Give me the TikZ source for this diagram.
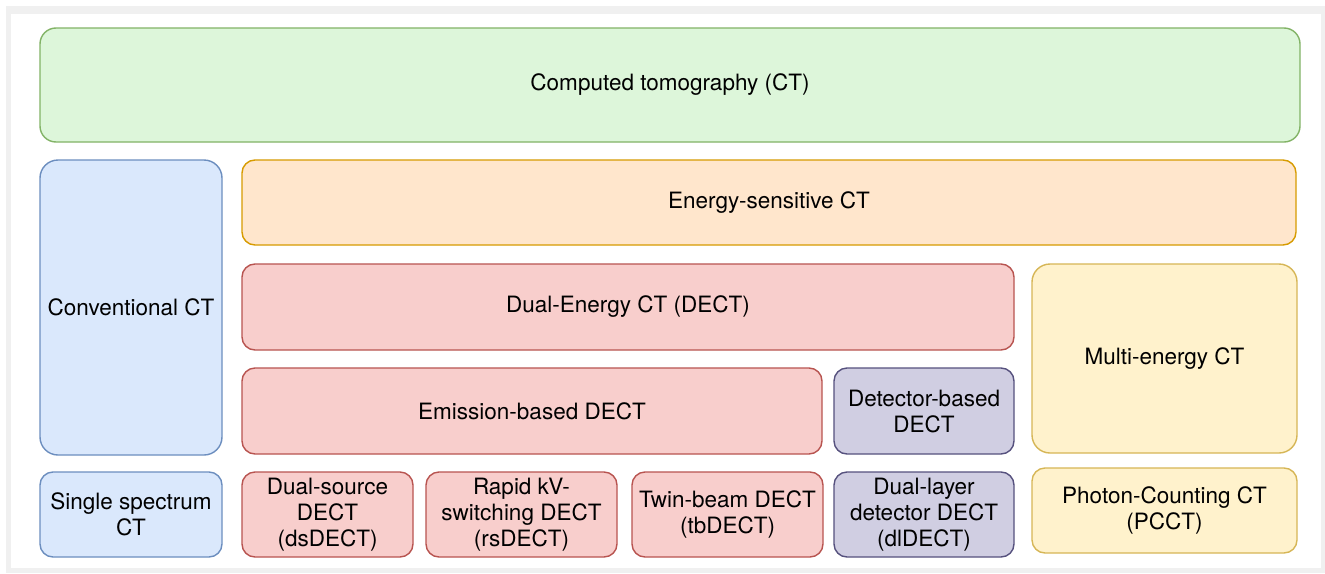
\documentclass[tikz,border=0pt]{standalone}
\usepackage{fontspec}
\setmainfont{TeX Gyre Heros}
\definecolor{gfill}{HTML}{DDF6DA}\definecolor{gline}{HTML}{82B366}
\definecolor{bfill}{HTML}{DAE8FC}\definecolor{bline}{HTML}{6C8EBF}
\definecolor{ofill}{HTML}{FFE6CC}\definecolor{oline}{HTML}{D79B00}
\definecolor{rfill}{HTML}{F8CECC}\definecolor{rline}{HTML}{B85450}
\definecolor{yfill}{HTML}{FFF2CC}\definecolor{yline}{HTML}{D6B656}
\definecolor{pfill}{HTML}{D0CEE2}\definecolor{pline}{HTML}{56517E}
\definecolor{frame}{HTML}{F0F0F0}
\tikzset{
  box/.style={rectangle, rounded corners=13pt, line width=1.4pt, inner sep=0pt, outer sep=0pt,
    anchor=north west, align=center, font=\fontsize{22.5}{26}\selectfont, text=black},
  gbox/.style={box, fill=gfill, draw=gline},
  bbox/.style={box, fill=bfill, draw=bline},
  obox/.style={box, fill=ofill, draw=oline},
  rbox/.style={box, fill=rfill, draw=rline},
  ybox/.style={box, fill=yfill, draw=yline},
  pbox/.style={box, fill=pfill, draw=pline},
}
\begin{document}
\begin{tikzpicture}[x=1pt,y=-1pt]
\useasboundingbox (0,0) rectangle (1325,573);
\fill[frame] (6,6) rectangle (1325,573);
\fill[white] (11,14) rectangle (1321,568);
% row 1
\node[gbox, minimum width=1260pt, minimum height=114pt, rounded corners=16pt] (ct) at (40,28) {Computed tomography (CT)};
% conventional
\node[bbox, minimum width=182pt, minimum height=295pt, rounded corners=18pt] (conv) at (40,160) {Conventional CT};
\node[obox, minimum width=1054pt, minimum height=85pt] (es) at (242,160) {Energy-sensitive CT};
\node[rbox, minimum width=772pt, minimum height=86pt] (de) at (242,264) {Dual-Energy CT (DECT)};
\node[ybox, minimum width=265pt, minimum height=189pt, rounded corners=18pt] (me) at (1032,264) {Multi-energy CT};
\node[rbox, minimum width=580pt, minimum height=86pt] (em) at (242,368) {Emission-based DECT};
\node[pbox, minimum width=180pt, minimum height=86pt] (det) at (834,368) {Detector-based\\DECT};
% bottom row
\node[bbox, minimum width=182pt, minimum height=85pt] (ss) at (40,472) {Single spectrum\\CT};
\node[rbox, minimum width=171pt, minimum height=85pt] (ds) at (242,472) {Dual-source\\DECT\\(dsDECT)};
\node[rbox, minimum width=191pt, minimum height=85pt] (rs) at (426,472) {Rapid kV-\\switching DECT\\(rsDECT)};
\node[rbox, minimum width=191pt, minimum height=85pt] (tb) at (632,472) {Twin-beam DECT\\(tbDECT)};
\node[pbox, minimum width=180pt, minimum height=85pt] (dl) at (834,472) {Dual-layer\\detector DECT\\(dlDECT)};
\node[ybox, minimum width=265pt, minimum height=85pt] (pc) at (1032,468) {Photon-Counting CT\\(PCCT)};
\end{tikzpicture}
\end{document}
